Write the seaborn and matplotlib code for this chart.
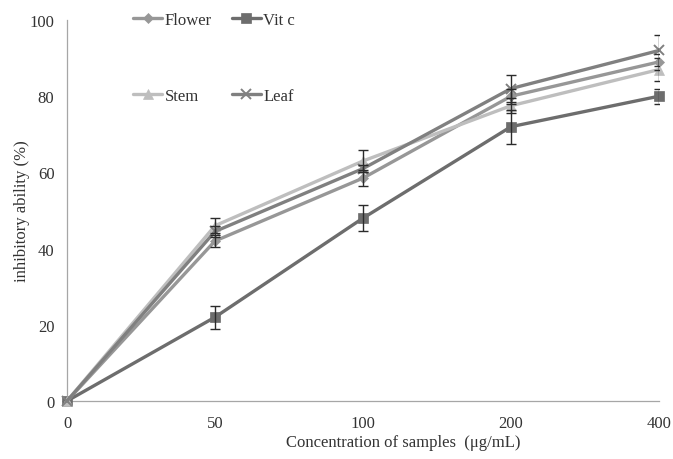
import matplotlib
matplotlib.use("Agg")
import matplotlib.pyplot as plt
import seaborn as sns
import numpy as np

# ---- data ----
categories = ["0", "50", "100", "200", "400"]
flower = [0, 42, 58.5, 80, 89]
flower_err = [0, 1.5, 2, 2, 2]
vitc = [0, 22, 48, 72, 80]
vitc_err = [0, 3, 3.5, 4.5, 2]
stem = [0, 46, 63, 77.5, 87]
stem_err = [0, 2, 3, 2, 3]
leaf = [0, 44.5, 61, 82, 92]
leaf_err = [0, 1.5, 1, 3.5, 4]

series_names = ["Flower", "Vit c", "Stem", "Leaf"]
series_vals = [flower, vitc, stem, leaf]
series_errs = [flower_err, vitc_err, stem_err, leaf_err]
colors = ["#979797", "#6d6d6d", "#bebebe", "#808080"]
markers = ["D", "s", "^", "x"]
msizes = [5, 7, 7, 7]

sns.set_theme(style="white")
plt.rcParams["font.family"] = ["Liberation Serif", "DejaVu Serif"]
plt.rcParams["font.size"] = 12

fig = plt.figure(figsize=(6.73, 4.60), dpi=100)
ax = fig.add_axes([67 / 673, 1 - 402 / 460, (659 - 67) / 673, (402 - 21) / 460])

pos = np.arange(len(categories))
for name, vals, errs, c, m, ms in zip(series_names, series_vals, series_errs,
                                      colors, markers, msizes):
    sns.lineplot(x=pos, y=vals, ax=ax, color=c, linewidth=2.4, marker=m,
                 markersize=ms, markeredgecolor=c, markerfacecolor=c,
                 markeredgewidth=1.4 if m == "x" else 0.5, label=name,
                 clip_on=False, zorder=3)
    ax.errorbar(pos[1:], vals[1:], yerr=errs[1:], fmt="none", ecolor="#2b2b2b",
                elinewidth=1.0, capsize=3.5, capthick=1.0, zorder=4)

ax.set_xlim(0, 4)
ax.set_ylim(0, 100)
ax.set_xticks(pos)
ax.set_xticklabels(categories)
ax.set_yticks(np.arange(0, 101, 20))

for s in ["top", "right"]:
    ax.spines[s].set_visible(False)
for s in ["left", "bottom"]:
    ax.spines[s].set_color("#a6a6a6")
    ax.spines[s].set_linewidth(0.9)

ax.tick_params(axis="both", which="major", direction="out", length=4,
               width=0.9, color="#a6a6a6", labelcolor="#333333",
               labelsize=12)
ax.tick_params(axis="x", pad=6)
ax.tick_params(axis="y", pad=5)

ax.set_xlabel("Concentration of samples  (μg/mL)", fontsize=12, color="#333333")
ax.xaxis.set_label_coords((403 - 67) / (659 - 67), -0.086)
ax.set_ylabel("inhibitory ability (%)", fontsize=12, color="#333333")
ax.yaxis.set_label_coords((30 - 67) / (659 - 67), 0.5)

handles, labels = ax.get_legend_handles_labels()
if ax.get_legend() is not None:
    ax.get_legend().remove()
order = [0, 2, 1, 3]
leg = fig.legend([handles[i] for i in order], [labels[i] for i in order],
                 ncol=2, loc="upper left",
                 bbox_to_anchor=(133 / 673, 1 - 13 / 460),
                 frameon=False, borderpad=0, borderaxespad=0,
                 handlelength=1.75, handletextpad=0.15, columnspacing=1.2,
                 labelspacing=3.6, fontsize=12)
for t in leg.get_texts():
    t.set_color("#333333")

fig.savefig("out.png", dpi=100)
